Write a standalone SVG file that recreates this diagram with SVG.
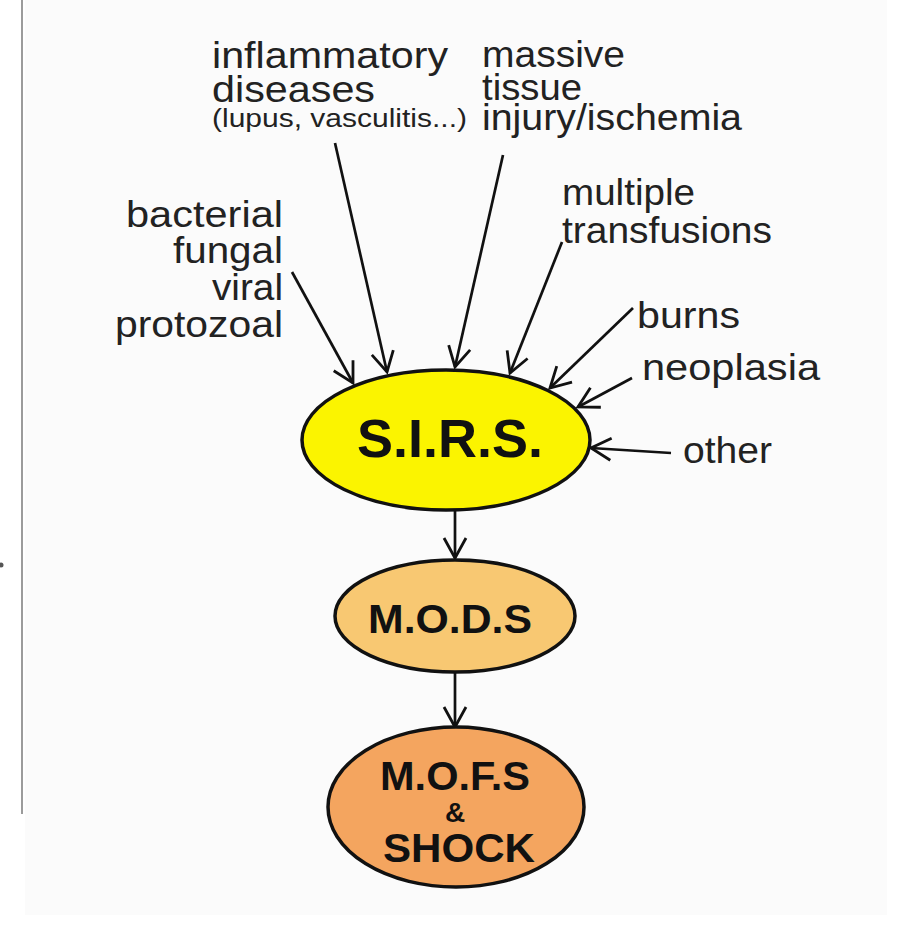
<svg xmlns="http://www.w3.org/2000/svg" width="897" height="925" viewBox="0 0 897 925">
<style>
.lbl{font-family:"Liberation Sans",Arial,Helvetica,sans-serif;font-size:37px;fill:#222;}
.sm{font-size:25px;}
.nd{font-family:"Liberation Sans",Arial,Helvetica,sans-serif;font-weight:bold;fill:#111;text-anchor:middle;}
.el{stroke:#111;stroke-width:3.5;}
.cn{stroke:#111;stroke-width:2.7;fill:none;marker-end:url(#ah);}
</style>
<defs>
<marker id="ah" markerUnits="userSpaceOnUse" markerWidth="26" markerHeight="26" viewBox="0 0 26 26" refX="22" refY="13" orient="auto">
<path d="M2,2 L22,13 L2,24" fill="none" stroke="#111" stroke-width="2.8" stroke-linejoin="miter"/>
</marker>
</defs>
<rect x="0" y="0" width="897" height="925" fill="#ffffff"/>
<rect x="25" y="0" width="862" height="915" fill="#fbfbfb"/>
<line x1="22" y1="0" x2="22" y2="814" stroke="#7a7a7a" stroke-width="1.5"/>
<circle cx="1" cy="565" r="2.5" fill="#555"/>

<g id="connectors">
<line class="cn" x1="292" y1="272" x2="353" y2="383"/>
<line class="cn" x1="335" y1="143" x2="387" y2="372"/>
<line class="cn" x1="503" y1="155" x2="455" y2="367"/>
<line class="cn" x1="562" y1="242" x2="510" y2="373"/>
<line class="cn" x1="633" y1="308" x2="550" y2="388"/>
<line class="cn" x1="632" y1="378" x2="578" y2="407"/>
<line class="cn" x1="671" y1="453" x2="591" y2="448"/>
<line class="cn" x1="455" y1="510" x2="455" y2="558"/>
<line class="cn" x1="455" y1="672" x2="455" y2="727"/>
</g>

<g id="sirs">
<ellipse class="el" cx="446" cy="440" rx="144" ry="70" fill="#fbf400"/>
<text class="nd" x="450" y="457" font-size="53" textLength="186" lengthAdjust="spacingAndGlyphs">S.I.R.S.</text>
</g>
<g id="mods">
<ellipse class="el" cx="455" cy="616" rx="120" ry="56" fill="#f8c872"/>
<text class="nd" x="450" y="633" font-size="40" textLength="164" lengthAdjust="spacingAndGlyphs">M.O.D.S</text>
</g>
<g id="mofs">
<ellipse class="el" cx="456" cy="807" rx="128" ry="80" fill="#f4a55f"/>
<text class="nd" x="455" y="790" font-size="41" textLength="150" lengthAdjust="spacingAndGlyphs">M.O.F.S</text>
<text class="nd" x="455" y="822" font-size="28">&amp;</text>
<text class="nd" x="459" y="862" font-size="41" textLength="152" lengthAdjust="spacingAndGlyphs">SHOCK</text>
</g>

<g id="inflammatory">
<text class="lbl" x="212" y="68" textLength="236" lengthAdjust="spacingAndGlyphs">inflammatory</text>
<text class="lbl" x="212" y="102" textLength="163" lengthAdjust="spacingAndGlyphs">diseases</text>
<text class="lbl sm" x="212" y="127" textLength="255" lengthAdjust="spacingAndGlyphs">(lupus, vasculitis...)</text>
</g>
<g id="massive">
<text class="lbl" x="482" y="67" textLength="143" lengthAdjust="spacingAndGlyphs">massive</text>
<text class="lbl" x="482" y="100" textLength="100" lengthAdjust="spacingAndGlyphs">tissue</text>
<text class="lbl" x="482" y="130" textLength="260" lengthAdjust="spacingAndGlyphs">injury/ischemia</text>
</g>
<g id="infection" text-anchor="end">
<text class="lbl" x="283" y="227" textLength="157" lengthAdjust="spacingAndGlyphs">bacterial</text>
<text class="lbl" x="283" y="263" textLength="110" lengthAdjust="spacingAndGlyphs">fungal</text>
<text class="lbl" x="283" y="300" textLength="71" lengthAdjust="spacingAndGlyphs">viral</text>
<text class="lbl" x="283" y="337" textLength="168" lengthAdjust="spacingAndGlyphs">protozoal</text>
</g>
<g id="transfusions">
<text class="lbl" x="562" y="205" textLength="133" lengthAdjust="spacingAndGlyphs">multiple</text>
<text class="lbl" x="562" y="243" textLength="210" lengthAdjust="spacingAndGlyphs">transfusions</text>
</g>
<g id="burns">
<text class="lbl" x="637" y="328" textLength="103" lengthAdjust="spacingAndGlyphs">burns</text>
</g>
<g id="neoplasia">
<text class="lbl" x="642" y="380" textLength="178" lengthAdjust="spacingAndGlyphs">neoplasia</text>
</g>
<g id="other">
<text class="lbl" x="683" y="463" textLength="89" lengthAdjust="spacingAndGlyphs">other</text>
</g>
</svg>
